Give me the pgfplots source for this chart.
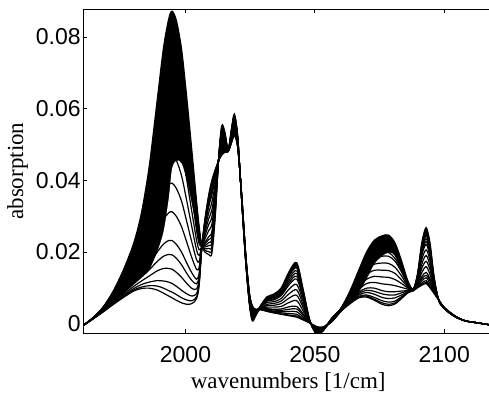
\documentclass[border=0pt]{standalone}
\usepackage{fontspec}
\setmainfont{Liberation Serif}
\newfontfamily\arialf{Liberation Sans}
\usepackage{pgfplots}
\usepackage{pgfplotstable}
\pgfplotsset{compat=1.18}

\pgfplotstableread{
x c0 c1 c2 c3 c4 c5 c6 c7 c8 c9 c10 c11 c12 c13 c14 c15 c16
1960.5 -0.0005 -0.0005 -0.0005 -0.0005 -0.0005 -0.0005 -0.0005 -0.0005 -0.0005 -0.0005 -0.0005 -0.0005 -0.0005 -0.0005 -0.0005 -0.0005 -0.0005
1964 0.0012 0.0012 0.0012 0.0012 0.0012 0.0013 0.0013 0.0013 0.0014 0.0014 0.0014 0.0014 0.0014 0.0015 0.0015 0.0015 0.0015
1968 0.0032 0.0032 0.0033 0.0033 0.0034 0.0035 0.0036 0.0037 0.0039 0.0040 0.0041 0.0042 0.0042 0.0043 0.0044 0.0044 0.0045
1972 0.0053 0.0054 0.0055 0.0057 0.0059 0.0060 0.0064 0.0068 0.0072 0.0075 0.0079 0.0081 0.0083 0.0084 0.0086 0.0088 0.0090
1976 0.0073 0.0075 0.0077 0.0081 0.0085 0.0088 0.0096 0.0104 0.0112 0.0119 0.0127 0.0131 0.0135 0.0138 0.0142 0.0146 0.0150
1980 0.0091 0.0094 0.0098 0.0104 0.0111 0.0118 0.0131 0.0145 0.0158 0.0171 0.0185 0.0192 0.0198 0.0205 0.0212 0.0218 0.0225
1983 0.0098 0.0102 0.0109 0.0119 0.0130 0.0140 0.0162 0.0183 0.0204 0.0225 0.0246 0.0257 0.0268 0.0278 0.0289 0.0299 0.0310
1986 0.0099 0.0106 0.0116 0.0133 0.0150 0.0167 0.0201 0.0235 0.0270 0.0304 0.0338 0.0355 0.0372 0.0389 0.0406 0.0423 0.0440
1989 0.0094 0.0105 0.0120 0.0147 0.0173 0.0199 0.0252 0.0304 0.0357 0.0410 0.0462 0.0489 0.0515 0.0541 0.0567 0.0594 0.0620
1991.5 0.0085 0.0099 0.0119 0.0154 0.0188 0.0222 0.0291 0.0359 0.0428 0.0496 0.0565 0.0599 0.0633 0.0667 0.0702 0.0736 0.0770
1993.5 0.0077 0.0092 0.0116 0.0154 0.0193 0.0232 0.0309 0.0386 0.0464 0.0541 0.0618 0.0657 0.0695 0.0734 0.0773 0.0811 0.0850
1994.8 0.0072 0.0088 0.0112 0.0152 0.0192 0.0232 0.0312 0.0392 0.0472 0.0552 0.0632 0.0672 0.0712 0.0752 0.0792 0.0832 0.0872
1996.5 0.0065 0.0081 0.0104 0.0143 0.0182 0.0221 0.0299 0.0377 0.0455 0.0533 0.0611 0.0650 0.0689 0.0728 0.0767 0.0806 0.0845
1998.5 0.0058 0.0072 0.0093 0.0129 0.0164 0.0199 0.0270 0.0341 0.0412 0.0482 0.0553 0.0588 0.0624 0.0659 0.0694 0.0730 0.0765
2000.5 0.0054 0.0066 0.0083 0.0112 0.0140 0.0169 0.0227 0.0284 0.0342 0.0400 0.0457 0.0486 0.0515 0.0544 0.0572 0.0601 0.0630
2002.5 0.0056 0.0064 0.0077 0.0098 0.0120 0.0141 0.0183 0.0226 0.0268 0.0310 0.0353 0.0374 0.0395 0.0416 0.0438 0.0459 0.0480
2004.3 0.0070 0.0075 0.0084 0.0097 0.0111 0.0124 0.0151 0.0178 0.0205 0.0232 0.0259 0.0273 0.0286 0.0300 0.0313 0.0327 0.0340
2005.3 0.0110 0.0113 0.0118 0.0126 0.0134 0.0142 0.0158 0.0174 0.0190 0.0206 0.0222 0.0230 0.0238 0.0246 0.0254 0.0262 0.0270
2006.3 0.0213 0.0213 0.0213 0.0213 0.0214 0.0214 0.0214 0.0215 0.0215 0.0215 0.0216 0.0216 0.0216 0.0216 0.0217 0.0217 0.0217
2007.5 0.0290 0.0288 0.0286 0.0281 0.0277 0.0272 0.0263 0.0254 0.0245 0.0236 0.0227 0.0223 0.0218 0.0214 0.0209 0.0205 0.0200
2009 0.0360 0.0357 0.0352 0.0343 0.0335 0.0327 0.0310 0.0293 0.0277 0.0260 0.0243 0.0235 0.0226 0.0218 0.0210 0.0201 0.0193
2010.2 0.0400 0.0396 0.0390 0.0380 0.0369 0.0359 0.0339 0.0318 0.0298 0.0278 0.0257 0.0247 0.0237 0.0227 0.0216 0.0206 0.0196
2011.5 0.0430 0.0427 0.0423 0.0417 0.0410 0.0404 0.0391 0.0378 0.0365 0.0352 0.0339 0.0332 0.0326 0.0320 0.0313 0.0306 0.0300
2012.8 0.0455 0.0455 0.0455 0.0456 0.0456 0.0456 0.0457 0.0457 0.0458 0.0458 0.0459 0.0459 0.0459 0.0459 0.0460 0.0460 0.0460
2014 0.0470 0.0472 0.0474 0.0478 0.0482 0.0486 0.0495 0.0503 0.0511 0.0519 0.0527 0.0532 0.0536 0.0540 0.0544 0.0548 0.0552
2015.2 0.0478 0.0479 0.0481 0.0484 0.0487 0.0489 0.0495 0.0501 0.0507 0.0512 0.0518 0.0521 0.0524 0.0526 0.0529 0.0532 0.0535
2016.5 0.0480 0.0480 0.0480 0.0481 0.0481 0.0481 0.0482 0.0482 0.0483 0.0483 0.0484 0.0484 0.0484 0.0484 0.0485 0.0485 0.0485
2017.8 0.0505 0.0506 0.0507 0.0509 0.0511 0.0513 0.0517 0.0521 0.0525 0.0529 0.0533 0.0535 0.0537 0.0539 0.0541 0.0543 0.0545
2018.9 0.0525 0.0526 0.0528 0.0531 0.0534 0.0537 0.0543 0.0549 0.0555 0.0561 0.0567 0.0570 0.0573 0.0576 0.0579 0.0582 0.0585
2020.2 0.0490 0.0491 0.0492 0.0493 0.0495 0.0496 0.0499 0.0502 0.0505 0.0508 0.0511 0.0513 0.0514 0.0516 0.0517 0.0519 0.0520
2021.7 0.0360 0.0360 0.0359 0.0358 0.0358 0.0357 0.0356 0.0354 0.0352 0.0351 0.0350 0.0349 0.0348 0.0347 0.0346 0.0346 0.0345
2023.3 0.0190 0.0190 0.0189 0.0188 0.0187 0.0186 0.0184 0.0182 0.0180 0.0178 0.0176 0.0175 0.0174 0.0173 0.0172 0.0171 0.0170
2024.7 0.0085 0.0084 0.0083 0.0082 0.0080 0.0079 0.0076 0.0073 0.0070 0.0067 0.0064 0.0062 0.0061 0.0060 0.0058 0.0056 0.0055
2025.8 0.0050 0.0049 0.0048 0.0046 0.0044 0.0042 0.0037 0.0033 0.0029 0.0025 0.0021 0.0018 0.0016 0.0014 0.0012 0.0010 0.0008
2027 0.0040 0.0040 0.0039 0.0038 0.0037 0.0036 0.0034 0.0032 0.0030 0.0028 0.0026 0.0025 0.0024 0.0023 0.0022 0.0021 0.0020
2029 0.0039 0.0039 0.0040 0.0040 0.0041 0.0041 0.0042 0.0043 0.0044 0.0046 0.0047 0.0047 0.0048 0.0048 0.0049 0.0049 0.0050
2031.5 0.0034 0.0035 0.0036 0.0038 0.0040 0.0042 0.0046 0.0050 0.0054 0.0059 0.0063 0.0065 0.0067 0.0069 0.0071 0.0073 0.0075
2034 0.0030 0.0031 0.0033 0.0035 0.0038 0.0040 0.0046 0.0051 0.0056 0.0061 0.0066 0.0069 0.0072 0.0074 0.0077 0.0079 0.0082
2037 0.0026 0.0027 0.0030 0.0033 0.0037 0.0041 0.0048 0.0056 0.0063 0.0070 0.0078 0.0081 0.0085 0.0089 0.0093 0.0096 0.0100
2040 0.0022 0.0024 0.0028 0.0034 0.0040 0.0047 0.0059 0.0071 0.0083 0.0096 0.0108 0.0114 0.0120 0.0127 0.0133 0.0139 0.0145
2043 0.0018 0.0021 0.0026 0.0033 0.0041 0.0048 0.0064 0.0079 0.0094 0.0109 0.0124 0.0132 0.0140 0.0147 0.0155 0.0162 0.0170
2045.5 0.0010 0.0012 0.0014 0.0018 0.0023 0.0027 0.0035 0.0044 0.0052 0.0061 0.0070 0.0074 0.0078 0.0082 0.0086 0.0091 0.0095
2048 0.0002 0.0002 0.0002 0.0003 0.0003 0.0004 0.0004 0.0005 0.0006 0.0007 0.0008 0.0008 0.0008 0.0009 0.0009 0.0010 0.0010
2050.5 -0.0008 -0.0008 -0.0009 -0.0010 -0.0011 -0.0012 -0.0014 -0.0016 -0.0018 -0.0020 -0.0022 -0.0023 -0.0024 -0.0025 -0.0026 -0.0027 -0.0028
2053 -0.0010 -0.0010 -0.0011 -0.0011 -0.0012 -0.0012 -0.0014 -0.0015 -0.0016 -0.0017 -0.0018 -0.0019 -0.0020 -0.0020 -0.0021 -0.0021 -0.0022
2056.5 0.0005 0.0005 0.0006 0.0006 0.0007 0.0007 0.0008 0.0009 0.0010 0.0011 0.0012 0.0013 0.0013 0.0014 0.0014 0.0015 0.0015
2060 0.0034 0.0034 0.0034 0.0035 0.0035 0.0036 0.0036 0.0037 0.0038 0.0039 0.0040 0.0040 0.0040 0.0041 0.0041 0.0042 0.0042
2063.5 0.0055 0.0056 0.0057 0.0058 0.0060 0.0062 0.0065 0.0069 0.0072 0.0076 0.0080 0.0081 0.0083 0.0085 0.0086 0.0088 0.0090
2067 0.0072 0.0074 0.0076 0.0080 0.0084 0.0088 0.0095 0.0103 0.0111 0.0119 0.0127 0.0130 0.0134 0.0138 0.0142 0.0146 0.0150
2070 0.0074 0.0077 0.0080 0.0087 0.0093 0.0099 0.0112 0.0124 0.0137 0.0150 0.0162 0.0168 0.0175 0.0181 0.0187 0.0194 0.0200
2073 0.0065 0.0068 0.0073 0.0082 0.0090 0.0099 0.0115 0.0132 0.0149 0.0166 0.0183 0.0191 0.0199 0.0208 0.0216 0.0225 0.0233
2076 0.0054 0.0058 0.0064 0.0073 0.0083 0.0092 0.0111 0.0130 0.0149 0.0169 0.0188 0.0197 0.0207 0.0216 0.0226 0.0235 0.0245
2078.5 0.0050 0.0054 0.0060 0.0070 0.0080 0.0089 0.0109 0.0129 0.0148 0.0168 0.0188 0.0198 0.0208 0.0217 0.0227 0.0237 0.0247
2081 0.0055 0.0058 0.0063 0.0072 0.0080 0.0089 0.0106 0.0123 0.0140 0.0157 0.0174 0.0182 0.0191 0.0200 0.0208 0.0216 0.0225
2083.5 0.0070 0.0072 0.0075 0.0080 0.0086 0.0091 0.0101 0.0112 0.0122 0.0133 0.0144 0.0149 0.0154 0.0159 0.0164 0.0170 0.0175
2086 0.0086 0.0087 0.0088 0.0089 0.0091 0.0092 0.0096 0.0099 0.0102 0.0105 0.0108 0.0110 0.0112 0.0113 0.0115 0.0116 0.0118
2088 0.0092 0.0092 0.0092 0.0092 0.0093 0.0093 0.0093 0.0094 0.0094 0.0094 0.0095 0.0095 0.0095 0.0095 0.0096 0.0096 0.0096
2089.7 0.0100 0.0101 0.0102 0.0104 0.0106 0.0108 0.0112 0.0116 0.0120 0.0124 0.0128 0.0130 0.0132 0.0134 0.0136 0.0138 0.0140
2091.3 0.0107 0.0109 0.0113 0.0119 0.0125 0.0131 0.0142 0.0154 0.0166 0.0178 0.0190 0.0195 0.0201 0.0207 0.0213 0.0219 0.0225
2093 0.0112 0.0115 0.0120 0.0128 0.0135 0.0143 0.0159 0.0174 0.0190 0.0206 0.0221 0.0229 0.0237 0.0245 0.0252 0.0260 0.0268
2094.5 0.0100 0.0102 0.0106 0.0112 0.0119 0.0125 0.0137 0.0150 0.0162 0.0175 0.0187 0.0194 0.0200 0.0206 0.0212 0.0219 0.0225
2096 0.0085 0.0086 0.0087 0.0090 0.0092 0.0095 0.0100 0.0105 0.0110 0.0115 0.0120 0.0122 0.0125 0.0127 0.0130 0.0132 0.0135
2097.7 0.0068 0.0068 0.0068 0.0068 0.0068 0.0068 0.0069 0.0069 0.0069 0.0069 0.0069 0.0070 0.0070 0.0070 0.0070 0.0070 0.0070
2100 0.0045 0.0045 0.0045 0.0045 0.0045 0.0044 0.0044 0.0044 0.0044 0.0043 0.0043 0.0043 0.0043 0.0042 0.0042 0.0042 0.0042
2104 0.0022 0.0022 0.0022 0.0022 0.0022 0.0022 0.0021 0.0021 0.0021 0.0021 0.0021 0.0021 0.0020 0.0020 0.0020 0.0020 0.0020
2108 0.0008 0.0008 0.0008 0.0008 0.0008 0.0008 0.0008 0.0008 0.0008 0.0008 0.0008 0.0008 0.0008 0.0008 0.0008 0.0008 0.0008
2113 0.0002 0.0002 0.0002 0.0002 0.0002 0.0002 0.0002 0.0002 0.0002 0.0002 0.0002 0.0002 0.0002 0.0002 0.0002 0.0002 0.0002
2117.3 -0.0003 -0.0003 -0.0003 -0.0003 -0.0003 -0.0003 -0.0003 -0.0003 -0.0003 -0.0003 -0.0003 -0.0003 -0.0003 -0.0003 -0.0003 -0.0003 -0.0003
}\spectra

% dense band of spectra: upper edge (bk) and lower edge (w) of the region where the lines merge
\pgfplotstableread{
x bk w
1960.5 -0.0005 -0.0007
1964 0.0015 0.0012
1968 0.0045 0.0033
1972 0.0090 0.0057
1976 0.0150 0.0085
1980 0.0225 0.0111
1983 0.0310 0.0130
1986 0.0440 0.0150
1989 0.0620 0.0199
1991.5 0.0770 0.0256
1993.5 0.0850 0.0348
1994.8 0.0872 0.0432
1996.5 0.0845 0.0455
1998.5 0.0765 0.0447
2000.5 0.0630 0.0400
2002.5 0.0480 0.0332
2004.3 0.0340 0.0266
2005.3 0.0270 0.0226
2006.3 0.0217 0.0220
2007.5 0.0200 0.0203
2009 0.0193 0.0196
2010.2 0.0196 0.0199
2011.5 0.0300 0.0303
2012.8 0.0460 0.0440
2014 0.0552 0.0470
2015.2 0.0535 0.0478
2016.5 0.0485 0.0480
2017.8 0.0545 0.0505
2018.9 0.0585 0.0525
2020.2 0.0520 0.0490
2021.7 0.0360 0.0345
2023.3 0.0190 0.0170
2024.7 0.0085 0.0055
2025.8 0.0050 0.0008
2027 0.0040 0.0020
2029 0.0050 0.0039
2031.5 0.0075 0.0071
2034 0.0082 0.0077
2037 0.0100 0.0093
2040 0.0145 0.0133
2043 0.0170 0.0155
2045.5 0.0095 0.0086
2048 0.0010 0.0002
2050.5 -0.0008 -0.0028
2053 -0.0010 -0.0022
2056.5 0.0015 0.0005
2060 0.0042 0.0034
2063.5 0.0090 0.0060
2067 0.0150 0.0088
2070 0.0200 0.0124
2073 0.0233 0.0166
2076 0.0245 0.0188
2078.5 0.0247 0.0198
2081 0.0225 0.0191
2083.5 0.0175 0.0154
2086 0.0118 0.0105
2088 0.0096 0.0092
2089.7 0.0140 0.0130
2091.3 0.0225 0.0195
2093 0.0268 0.0245
2094.5 0.0225 0.0200
2096 0.0135 0.0115
2097.7 0.0070 0.0060
2100 0.0045 0.0040
2104 0.0022 0.0018
2108 0.0008 0.0006
2113 0.0002 0.0000
2117.3 -0.0003 -0.0005
}\band

\begin{document}
\begin{tikzpicture}
\useasboundingbox (0,0) rectangle (244.5pt,198.5pt);
\begin{axis}[
  at={(41.65pt,31.85pt)}, anchor=south west,
  scale only axis, width=202.85pt, height=162.15pt,
  xmin=1960.5, xmax=2117.3, ymin=-0.0027, ymax=0.0878,
  axis x line*=box, axis y line*=left,
  axis line style={-, line width=0.5pt},
  axis on top,
  tick align=inside, major tick length=2pt,
  tick style={black, line width=0.4pt},
  xtick={2000,2050,2100}, ytick={0,0.02,0.04,0.06,0.08},
  scaled y ticks=false, scaled x ticks=false,
  /pgf/number format/assume math mode=true,
  yticklabel style={/pgf/number format/fixed, /pgf/number format/precision=2, xshift=2.2pt},
  xticklabel style={/pgf/number format/1000 sep={}, yshift=-2.9pt},
  tick label style={font=\arialf\fontsize{11.5}{13}\selectfont},
  xlabel={wavenumbers [1/cm]}, ylabel={absorption},
  label style={font=\fontsize{11.5}{13}\selectfont},
  xlabel style={at={(axis description cs:0.505,-0.1492)}, anchor=center, inner sep=0pt},
  ylabel style={at={(axis description cs:-0.1622,0.5)}, anchor=center, inner sep=0pt},
]
\addplot[draw=none, fill=black, smooth, forget plot] table[x=x, y=bk] {\band}
  -- (axis cs:2117.3,-0.004) -- (axis cs:1960.5,-0.004) -- cycle;
\addplot[draw=none, fill=white, smooth, forget plot] table[x=x, y=w] {\band}
  -- (axis cs:2117.3,-0.004) -- (axis cs:1960.5,-0.004) -- cycle;
\pgfplotsinvokeforeach{0,...,16}{
  \addplot[black, line width=0.6pt, smooth, mark=none] table[x=x, y=c#1] {\spectra};
}
\end{axis}
\end{tikzpicture}
\end{document}
